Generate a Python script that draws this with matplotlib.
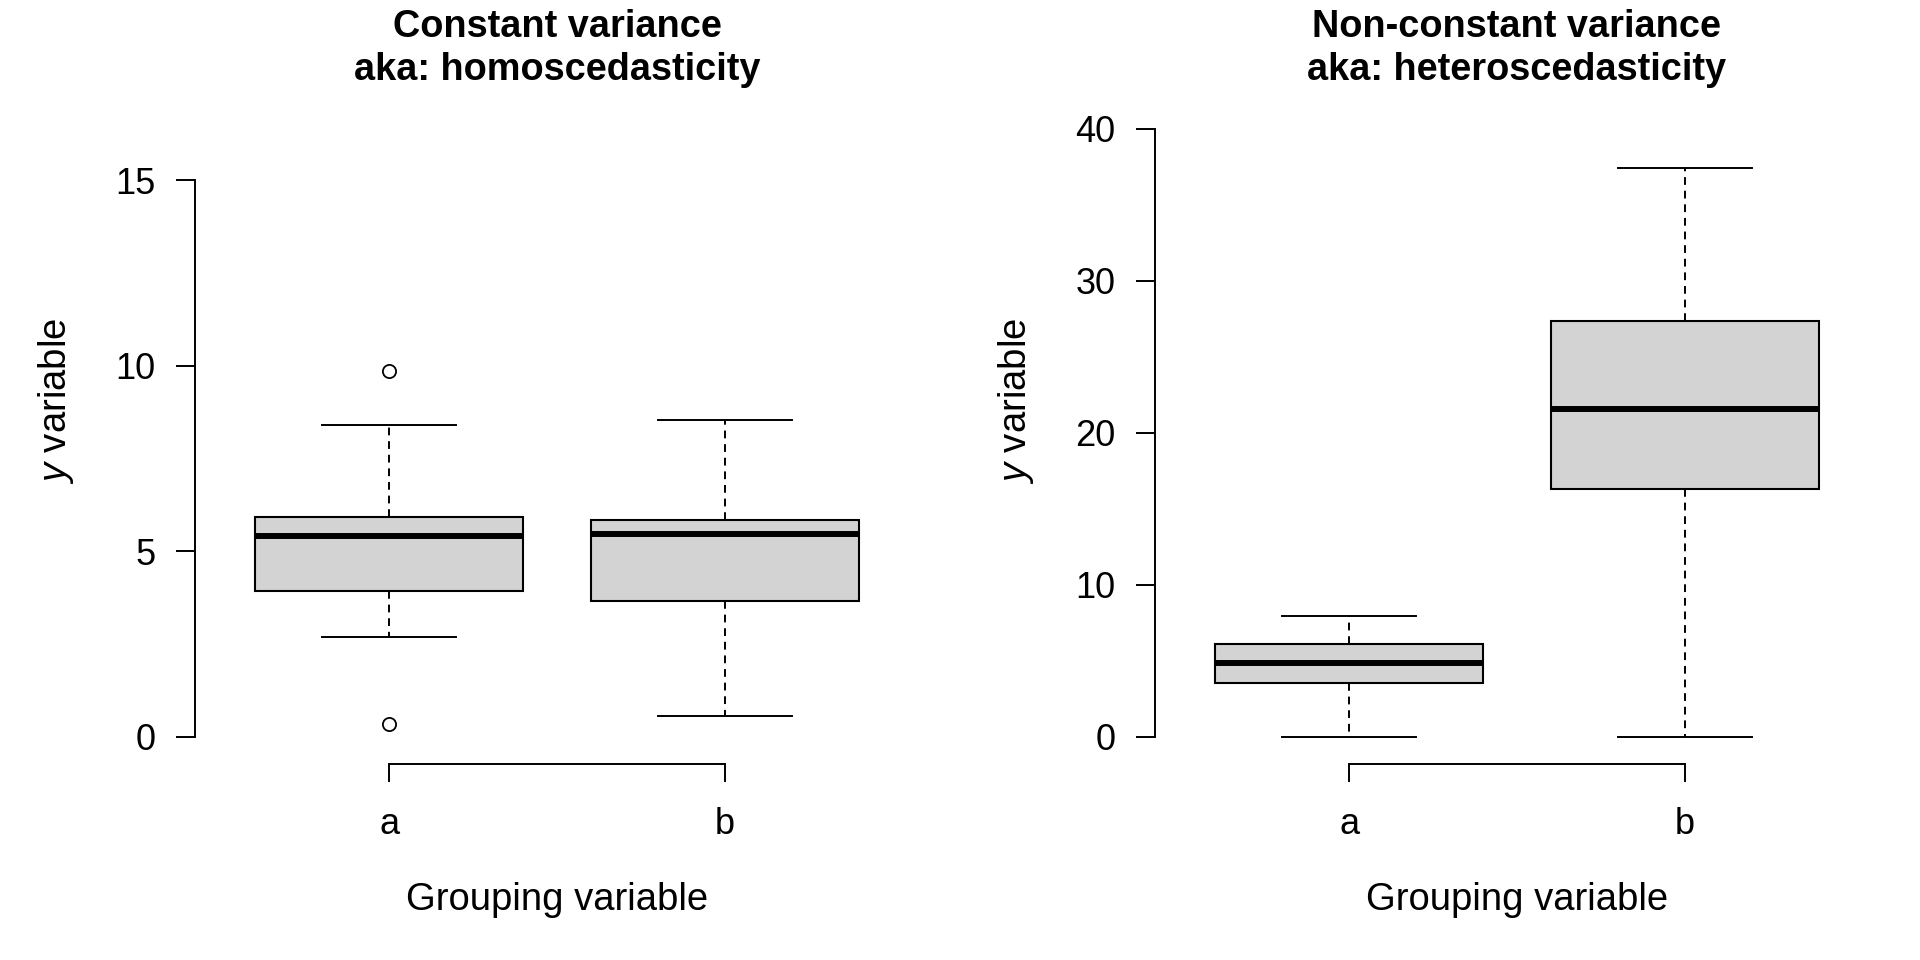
import matplotlib
matplotlib.use("Agg")
import matplotlib.pyplot as plt

plt.rcParams["font.family"] = ["Liberation Sans", "DejaVu Sans"]
plt.rcParams["mathtext.fontset"] = "custom"
plt.rcParams["mathtext.it"] = "Liberation Sans:italic"
plt.rcParams["mathtext.rm"] = "Liberation Sans"

groups = ["a", "b"]

# Constant variance (homoscedasticity): box stats
homo_whislo = [2.70, 0.55]
homo_q1 = [3.92, 3.67]
homo_med = [5.42, 5.46]
homo_q3 = [5.91, 5.84]
homo_whishi = [8.40, 8.54]
homo_fliers = [[9.87, 0.35], []]
homo_ticks = [0, 5, 10, 15]

# Non-constant variance (heteroscedasticity)
hetero_whislo = [0.0, 0.0]
hetero_q1 = [3.56, 16.31]
hetero_med = [4.88, 21.54]
hetero_q3 = [6.08, 27.36]
hetero_whishi = [7.91, 37.44]
hetero_fliers = [[], []]
hetero_ticks = [0, 10, 20, 30, 40]

W, H = 1920, 960
fig = plt.figure(figsize=(W / 100, H / 100), dpi=100)


def panel(x_off, whislo, q1, med, q3, whishi, fliers, ticks, px_per_unit, title):
    # plot region in pixels (R style: xlim 0.42..2.58, axes bottom below 0)
    left, right, top, bottom = 195 + x_off, 919 + x_off, 27, 764
    zero_px = 736.7
    ax = fig.add_axes([left / W, 1 - bottom / H, (right - left) / W, (bottom - top) / H])
    ax.set_xlim(0.42, 2.58)
    ax.set_ylim(-(bottom - zero_px) / px_per_unit, (zero_px - top) / px_per_unit)

    stats = []
    for g, lo, a, m, b, hi, f in zip(groups, whislo, q1, med, q3, whishi, fliers):
        stats.append(dict(label=g, whislo=lo, q1=a, med=m, q3=b, whishi=hi, fliers=f))
    ax.bxp(stats, positions=[1, 2], widths=0.8, capwidths=0.4, patch_artist=True,
           boxprops=dict(facecolor="#d3d3d3", edgecolor="black", linewidth=1.5),
           medianprops=dict(color="black", linewidth=4.3, solid_capstyle="butt"),
           whiskerprops=dict(color="black", linewidth=1.4, linestyle=(0, (4, 3))),
           capprops=dict(color="black", linewidth=1.4),
           flierprops=dict(marker="o", markerfacecolor="none", markeredgecolor="black",
                           markersize=9.5, markeredgewidth=1.3))

    for s in ["top", "right"]:
        ax.spines[s].set_visible(False)
    ax.spines["left"].set_bounds(ticks[0], ticks[-1])
    ax.spines["bottom"].set_bounds(1, 2)
    ax.spines["left"].set_linewidth(1.4)
    ax.spines["bottom"].set_linewidth(1.4)
    ax.set_yticks(ticks)
    ax.set_yticklabels([str(t) for t in ticks])
    ax.set_xticks([1, 2])
    ax.set_xticklabels(groups)
    ax.tick_params(axis="y", length=13.5, width=1.4, pad=15, labelsize=26)
    ax.tick_params(axis="x", length=13, width=1.4, pad=18, labelsize=26)

    cx = (left + right) / 2
    t1, t2 = title.split("\n")
    fig.text(cx / W, 1 - 27 / H, t1, ha="center", va="center", fontsize=27.3, fontweight="bold")
    fig.text(cx / W, 1 - 70 / H, t2, ha="center", va="center", fontsize=27.3, fontweight="bold")
    fig.text(cx / W, 1 - 900 / H, "Grouping variable", ha="center", va="center", fontsize=27.5)
    fig.text((56 + x_off) / W, 1 - 401 / H, "$y$ variable", ha="center", va="center",
             rotation=90, fontsize=27.5)
    return ax


panel(0, homo_whislo, homo_q1, homo_med, homo_q3, homo_whishi, homo_fliers,
      homo_ticks, 37.1, "Constant variance\naka: homoscedasticity")
panel(960, hetero_whislo, hetero_q1, hetero_med, hetero_q3, hetero_whishi, hetero_fliers,
      hetero_ticks, 15.2, "Non-constant variance\naka: heteroscedasticity")

fig.savefig("out.png", dpi=100)
